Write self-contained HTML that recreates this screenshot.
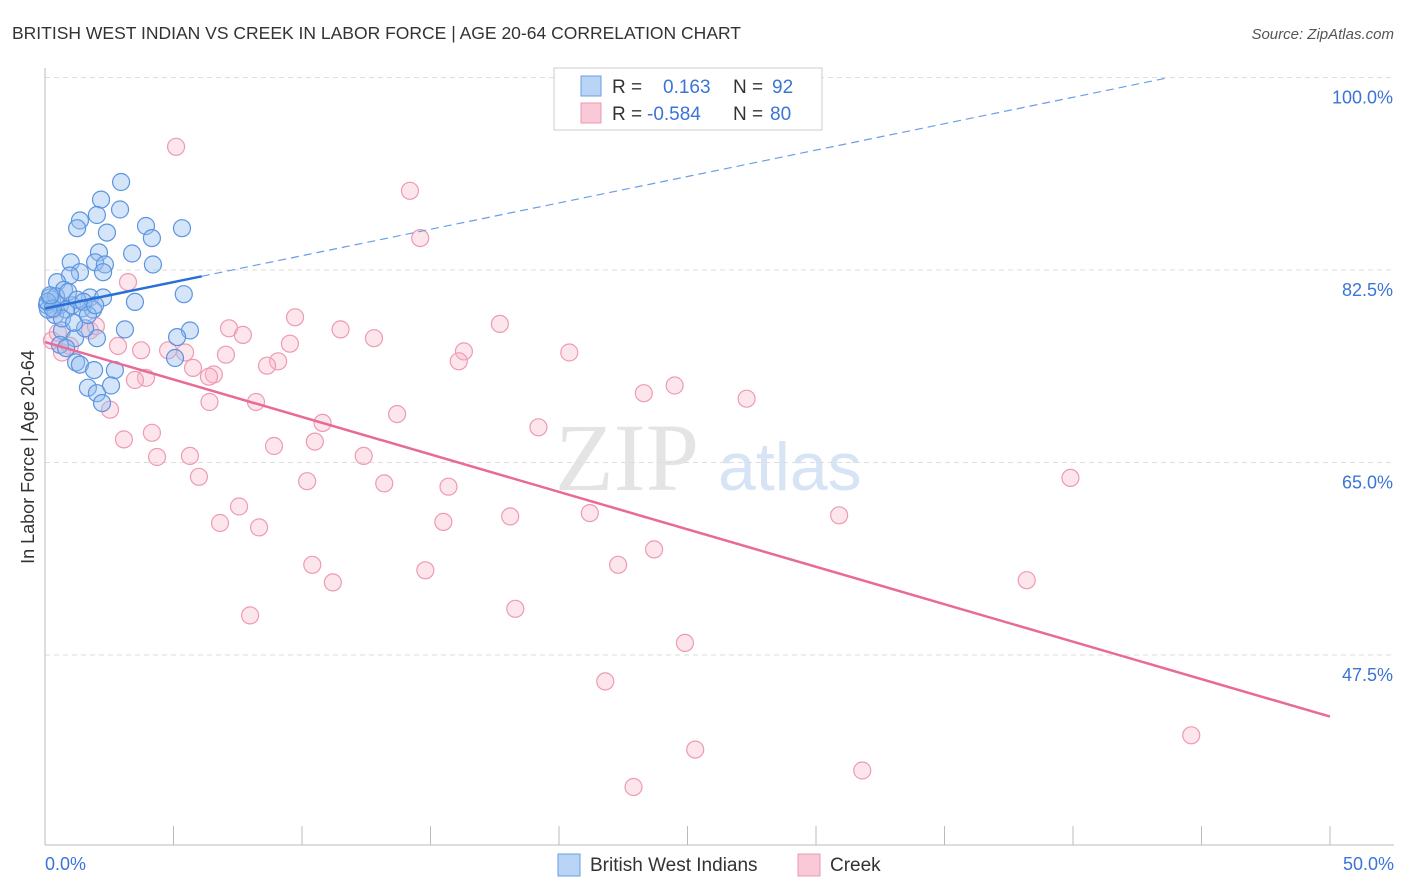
<!DOCTYPE html>
<html><head><meta charset="utf-8"><style>
body{margin:0;background:#fff;font-family:"Liberation Sans",sans-serif;}
#wrap{position:relative;width:1406px;height:892px;overflow:hidden}
</style></head><body>
<div id="wrap">
<svg id="svg" width="1406" height="892" xmlns="http://www.w3.org/2000/svg">
<text x="12" y="39" font-size="17.5" fill="#333">BRITISH WEST INDIAN VS CREEK IN LABOR FORCE | AGE 20-64 CORRELATION CHART</text>
<text x="1394" y="39" font-size="15" fill="#555" font-style="italic" text-anchor="end">Source: ZipAtlas.com</text>
<text x="555" y="490" font-size="96" fill="#e4e4e4" font-family="Liberation Serif,serif">ZIP</text>
<text x="718" y="490" font-size="68" fill="#d6e4f5">atlas</text>
<g id="grid"></g><g id="marks"></g>
<text transform="translate(34,457) rotate(-90)" font-size="18" fill="#333" text-anchor="middle">In Labor Force | Age 20-64</text>
<g>
<rect x="554" y="68" width="268" height="62" fill="#fff" stroke="#ccc"/>
<rect x="581" y="76" width="20" height="20" fill="#b9d4f5" stroke="#6a9ee6"/>
<rect x="581" y="103" width="20" height="20" fill="#f9c9d7" stroke="#ec98b2"/>
<text x="612" y="93" font-size="19" fill="#333">R = </text><text x="663" y="93" font-size="19" fill="#3b74d8">0.163</text>
<text x="733" y="93" font-size="19" fill="#333">N = </text><text x="772" y="93" font-size="19" fill="#3b74d8">92</text>
<text x="612" y="120" font-size="19" fill="#333">R = </text><text x="647" y="120" font-size="19" fill="#3b74d8">-0.584</text>
<text x="733" y="120" font-size="19" fill="#333">N = </text><text x="770" y="120" font-size="19" fill="#3b74d8">80</text>
</g>
<g>
<rect x="558" y="854" width="22" height="22" fill="#b9d4f5" stroke="#6a9ee6"/>
<text x="590" y="871" font-size="19" fill="#333">British West Indians</text>
<rect x="798" y="854" width="22" height="22" fill="#f9c9d7" stroke="#ec98b2"/>
<text x="830" y="871" font-size="19" fill="#333">Creek</text>
</g>
</svg>
<script>
const yTicks=[47.5,65.0,82.5,100.0];
const xTickLabels=["0.0%","50.0%"];
const blueX=[2.96,2.18,1.36,2.02,2.92,1.25,2.41,3.93,4.16,5.33,2.1,3.39,4.2,1.0,1.95,2.33,1.36,2.26,0.97,0.47,5.4,0.74,1.75,2.26,3.5,0.08,0.27,0.58,1.05,1.44,1.87,0.39,0.12,0.82,3.11,5.64,5.14,0.66,1.17,2.02,1.56,0.58,0.82,5.06,1.21,1.36,1.91,2.72,1.67,2.57,2.02,2.22,0.19,0.43,0.9,1.25,1.5,0.66,1.13,1.67,1.95,0.1,0.3,0.2];
const blueY=[90.5,88.9,87.0,87.5,88.0,86.3,85.9,86.5,85.4,86.3,84.1,84.0,83.0,83.2,83.2,83.0,82.3,82.3,82.0,81.4,80.3,80.7,80.0,80.0,79.6,79.3,79.8,79.3,79.3,79.0,78.9,78.4,78.9,78.9,77.1,77.0,76.4,77.0,76.3,76.3,77.2,75.7,75.4,74.5,74.1,73.9,73.4,73.4,71.8,72.0,71.3,70.4,80.0,80.1,80.5,79.8,79.6,78.1,77.7,78.4,79.3,79.6,79.0,80.2];
const pinkX=[5.1,14.2,14.6,3.23,9.73,17.7,7.16,11.5,7.7,12.8,9.53,2.84,3.74,4.79,5.45,16.3,20.4,7.04,16.1,9.07,8.64,5.76,6.57,6.38,3.93,3.5,24.5,23.3,8.21,6.4,27.3,2.53,13.7,10.8,19.2,4.16,3.07,10.5,8.91,12.4,4.36,5.64,5.99,10.2,13.2,15.7,39.9,7.55,21.2,18.1,30.9,6.81,15.5,8.33,23.7,10.4,22.3,14.8,11.2,38.2,18.3,7.98,24.9,21.8,44.6,25.3,31.8,22.9,0.27,0.5,0.97,1.75,1.98,0.66,0.35];
const pinkY=[93.7,89.7,85.4,81.4,78.2,77.6,77.2,77.1,76.6,76.3,75.8,75.6,75.2,75.2,75.0,75.1,75.0,74.8,74.2,74.2,73.8,73.6,73.0,72.8,72.7,72.5,72.0,71.3,70.5,70.5,70.8,69.8,69.4,68.6,68.2,67.7,67.1,66.9,66.5,65.6,65.5,65.6,63.7,63.3,63.1,62.8,63.6,61.0,60.4,60.1,60.2,59.5,59.6,59.1,57.1,55.7,55.7,55.2,54.1,54.3,51.7,51.1,48.6,45.1,40.2,38.9,37.0,35.5,76.1,76.8,75.6,77.0,77.4,75.0,78.9];
const blueTrend=[79.0,0.48];
const pinkTrend=[75.95,-0.681];
const NS="http://www.w3.org/2000/svg";
const sx=v=>45+v*25.7, sy=v=>77.5+(100-v)*11;
function mk(t,a,p){const e=document.createElementNS(NS,t);for(const k in a)e.setAttribute(k,a[k]);p.appendChild(e);return e;}
const grid=document.getElementById('grid'),marks=document.getElementById('marks');
yTicks.forEach(v=>{
 const l=mk('line',{x1:45,x2:1394,y1:sy(v),y2:sy(v),stroke:'#ddd','stroke-dasharray':'5,4'},grid);
 
 
 const t=mk('text',{x:1393,y:sy(v)+26,'font-size':18,fill:'#3b74d8','text-anchor':'end'},grid);
 t.textContent=v.toFixed(1)+'%';
 
 
});
mk('line',{x1:45,x2:45,y1:68,y2:845,stroke:'#bbb'},grid);
mk('line',{x1:45,x2:1394,y1:845,y2:845,stroke:'#bbb'},grid);
for(let i=0;i<=10;i++){const x=sx(i*5);const l=mk('line',{x1:x,x2:x,y1:826,y2:845,stroke:'#bbb'},grid);
 
 }
xTickLabels.forEach((s,i)=>{const t=mk('text',{x:i?1394:45,y:870,'font-size':18,fill:'#3b74d8','text-anchor':i?'end':'start'},grid);t.textContent=s;
 
 });
pinkX.forEach((x,i)=>{const c=mk('circle',{cx:sx(x),cy:sy(pinkY[i]),r:8.5,fill:'rgba(248,180,200,0.35)',stroke:'#ee9ab4','stroke-width':1.2},marks);
 
 });
blueX.forEach((x,i)=>{const c=mk('circle',{cx:sx(x),cy:sy(blueY[i]),r:8.5,fill:'rgba(150,190,240,0.4)',stroke:'#5b94e0','stroke-width':1.2},marks);
 
 });
const bx1=6.1,bx2=(100-blueTrend[0])/blueTrend[1];
let l=mk('line',{x1:sx(0),y1:sy(blueTrend[0]),x2:sx(bx1),y2:sy(blueTrend[0]+blueTrend[1]*bx1),stroke:'#2a6fd6','stroke-width':2.5},marks);


l=mk('line',{x1:sx(bx1),y1:sy(blueTrend[0]+blueTrend[1]*bx1),x2:sx(bx2),y2:sy(100),stroke:'#6a9ee6','stroke-width':1.2,'stroke-dasharray':'8,5'},marks);


l=mk('line',{x1:sx(0),y1:sy(pinkTrend[0]),x2:sx(50),y2:sy(pinkTrend[0]+pinkTrend[1]*50),stroke:'#e86a96','stroke-width':2.5},marks);


</script>
</div>
</body></html>
